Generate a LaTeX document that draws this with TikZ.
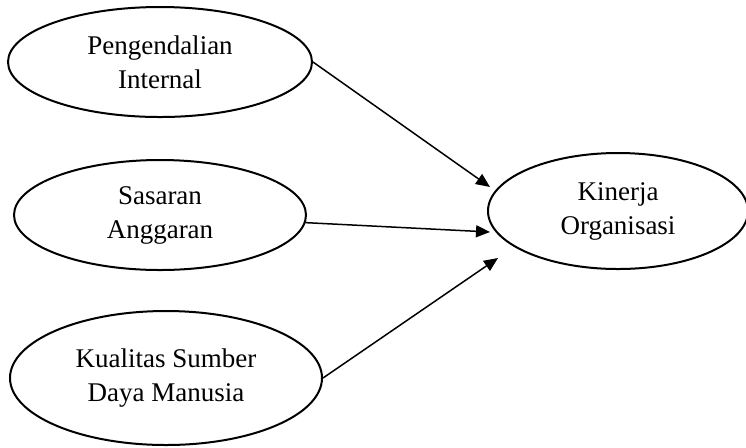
\documentclass[tikz,border=0pt]{standalone}
\usepackage{fontspec}
\setmainfont{Liberation Serif}
\usepackage{tikz}
\usetikzlibrary{arrows.meta,shapes.geometric}

\begin{document}
\begin{tikzpicture}[x=0.5pt,y=-0.5pt]
\tikzstyle{var}=[ellipse,draw=black,line width=1pt,inner sep=0pt,align=center,font=\fontsize{13.5}{17}\selectfont]
\tikzstyle{arr}=[line width=0.75pt,-{Triangle[length=7pt,width=6pt]}]
\useasboundingbox (0,0) rectangle (746,447);
\node[var,minimum width=152pt,minimum height=55pt] (pi) at (160,62) {Pengendalian\\Internal};
\node[var,minimum width=146pt,minimum height=55pt] (sa) at (160,215) {Sasaran\\Anggaran};
\node[var,minimum width=156pt,minimum height=67pt] (ksdm) at (166,378) {Kualitas Sumber\\Daya Manusia};
\node[var,minimum width=130pt,minimum height=58pt] (ko) at (618,211) {Kinerja\\Organisasi};
\coordinate (t1) at (490,187);
\coordinate (t2) at (490,232);
\coordinate (t3) at (498,258);
\draw[arr] (pi.east) -- (t1);
\draw[arr] (sa.-3) -- (t2);
\draw[arr] (ksdm.east) -- (t3);
\end{tikzpicture}
\end{document}
